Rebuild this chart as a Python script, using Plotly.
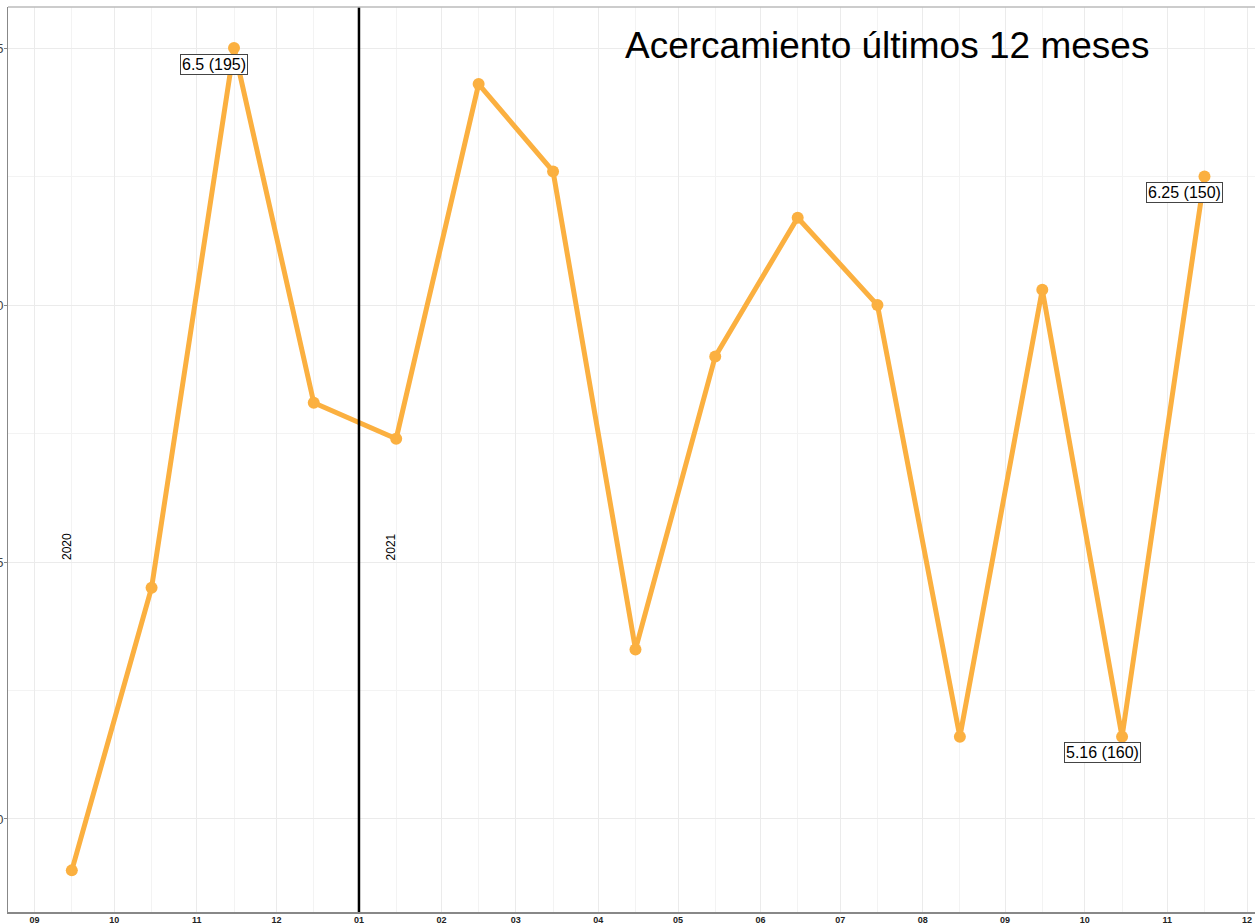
import plotly.graph_objects as go

# monthly values (mid-month points)
fechas = ["2020-09-15", "2020-10-15", "2020-11-15", "2020-12-15",
          "2021-01-15", "2021-02-15", "2021-03-15", "2021-04-15",
          "2021-05-15", "2021-06-15", "2021-07-15", "2021-08-15",
          "2021-09-15", "2021-10-15", "2021-11-15"]
valores = [4.90, 5.45, 6.50, 5.81, 5.74, 6.43, 6.26, 5.33,
           5.90, 6.17, 6.00, 5.16, 6.03, 5.16, 6.25]

# labelled points
etiquetas_x = ["2020-11-15", "2021-10-15", "2021-11-15"]
etiquetas_y = [6.50, 5.16, 6.25]
etiquetas_txt = ["6.5 (195)", "5.16 (160)", "6.25 (150)"]

anios = ["2020", "2021"]
anios_x = ["2020-09-13", "2021-01-13"]

meses_ticks = ["2020-09-01", "2020-10-01", "2020-11-01", "2020-12-01",
               "2021-01-01", "2021-02-01", "2021-03-01", "2021-04-01",
               "2021-05-01", "2021-06-01", "2021-07-01", "2021-08-01",
               "2021-09-01", "2021-10-01", "2021-11-01", "2021-12-01"]
meses_txt = ["09", "10", "11", "12", "01", "02", "03", "04",
             "05", "06", "07", "08", "09", "10", "11", "12"]

naranja = "#FBB040"

fig = go.Figure()
fig.add_trace(go.Scatter(
    x=fechas, y=valores, mode="lines+markers",
    line=dict(color=naranja, width=5),
    marker=dict(color=naranja, size=12),
    showlegend=False, hoverinfo="x+y",
))

# vertical line at year change
fig.add_shape(type="line", x0="2021-01-01", x1="2021-01-01", y0=0, y1=1,
              xref="x", yref="paper", line=dict(color="black", width=2.5))

for fx, fy, t in zip(etiquetas_x, etiquetas_y, etiquetas_txt):
    fig.add_annotation(x=fx, y=fy, text=t, showarrow=False,
                       xshift=-20, yshift=-16,
                       font=dict(family="Liberation Sans, Arial", size=16, color="black"),
                       bgcolor="white", bordercolor="#444444", borderwidth=1, borderpad=1)

for ax_, t in zip(anios_x, anios):
    fig.add_annotation(x=ax_, y=5.5, text=t, textangle=-90, showarrow=False,
                       yanchor="bottom", xanchor="center",
                       font=dict(family="Liberation Sans, Arial", size=12, color="black"))

fig.add_annotation(x=0.705, y=0.958, xref="paper", yref="paper",
                   text="Acercamiento últimos 12 meses", showarrow=False,
                   xanchor="center", yanchor="middle",
                   font=dict(family="Liberation Sans, Arial", size=37, color="black"))

minor_grid = dict(showgrid=True, gridcolor="#f3f3f3", gridwidth=1)

fig.update_layout(
    width=1255, height=924,
    margin=dict(l=8, r=0, t=7, b=12, autoexpand=False),
    plot_bgcolor="white", paper_bgcolor="white",
    font=dict(family="Liberation Sans, Arial", color="#333333"),
    xaxis=dict(
        range=["2020-08-22", "2021-12-04"],
        tickvals=meses_ticks, ticktext=["<b>%s</b>" % m for m in meses_txt],
        tickfont=dict(size=9, color="#222222", family="Liberation Sans, Arial"),
        ticks="", ticklabelstandoff=-2, automargin=False,
        showgrid=True, gridcolor="#ebebeb", gridwidth=1,
        showline=True, linecolor="#888888", linewidth=2,
        mirror=False, zeroline=False,
        minor=dict(tickvals=fechas, ticks="", **minor_grid),
    ),
    yaxis=dict(
        range=[4.819, 6.580],
        tickvals=[5.0, 5.5, 6.0, 6.5], ticktext=["5.0", "5.5", "6.0", "6.5"],
        tickfont=dict(size=13, color="#444444"),
        ticks="outside", ticklen=3, tickcolor="#888888",
        ticklabelstandoff=-2, automargin=False,
        showgrid=True, gridcolor="#ebebeb", gridwidth=1,
        showline=True, linecolor="#888888", linewidth=1,
        zeroline=False,
        minor=dict(tickvals=[4.75, 5.25, 5.75, 6.25], ticks="", **minor_grid),
    ),
)
# top border of the panel
fig.add_shape(type="line", x0=0, x1=1, y0=1, y1=1, xref="paper", yref="paper",
              line=dict(color="#bbbbbb", width=1.5))

fig.write_html("out.html", config={"displayModeBar": False},
               post_script="document.body.style.margin='0';document.body.style.overflow='hidden';")
